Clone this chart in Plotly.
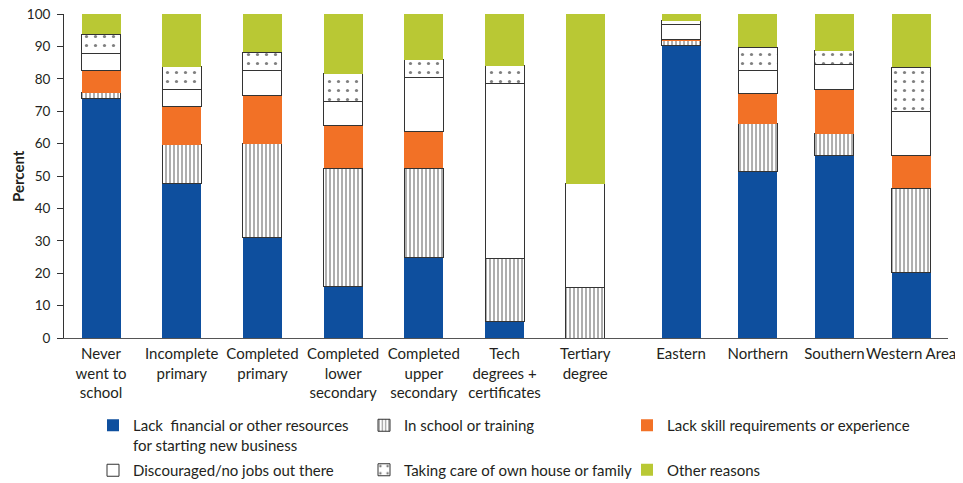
import plotly.graph_objects as go

# ---------------- data ----------------
edu_categories = ["Never<br>went to<br>school", "Incomplete<br>primary", "Completed<br>primary",
                  "Completed<br>lower<br>secondary", "Completed<br>upper<br>secondary",
                  "Tech<br>degrees +<br>certificates", "Tertiary<br>degree"]
region_categories = ["Eastern", "Northern", "Southern", "Western Area"]

series_names = ["Lack  financial or other resources<br>for starting new business",
                "In school or training",
                "Lack skill requirements or experience",
                "Discouraged/no jobs out there",
                "Taking care of own house or family",
                "Other reasons"]

lack_financial_edu = [74.0, 47.6, 31.1, 16.0, 24.9, 5.1, 0.0]
in_school_edu      = [1.7, 12.0, 28.8, 36.4, 27.5, 19.4, 15.5]
lack_skill_edu     = [6.8, 11.9, 14.8, 13.1, 11.4, 0.0, 0.0]
discouraged_edu    = [5.4, 5.2, 7.9, 7.5, 16.7, 54.1, 32.1]
care_edu           = [5.9, 7.0, 5.6, 8.5, 5.4, 5.4, 0.0]
other_edu          = [6.2, 16.3, 11.8, 18.5, 14.1, 16.0, 52.4]

lack_financial_reg = [90.2, 51.3, 56.2, 20.1]
in_school_reg      = [1.6, 14.8, 6.8, 26.1]
lack_skill_reg     = [0.4, 9.4, 13.8, 10.0]
discouraged_reg    = [4.7, 7.1, 7.5, 13.7]
care_reg           = [1.0, 7.2, 4.3, 13.7]
other_reg          = [2.1, 10.2, 11.4, 16.4]

y_ticks = [0, 10, 20, 30, 40, 50, 60, 70, 80, 90, 100]
y_title = "Percent"

# ---------------- styles ----------------
BLUE = "#0e4f9e"
ORANGE = "#f27126"
GREEN = "#b9c834"
OUTLINE = "#333333"
FONT = "Lato"
TXT = "#231f20"

styles = [
    dict(marker=dict(color=BLUE, line=dict(width=0))),
    dict(marker=dict(color="white", line=dict(width=1, color=OUTLINE),
                     pattern=dict(shape="|", size=4, solidity=0.4, fgcolor="#333333",
                                  bgcolor="white", fillmode="overlay"))),
    dict(marker=dict(color=ORANGE, line=dict(width=0))),
    dict(marker=dict(color="white", line=dict(width=1, color=OUTLINE))),
    dict(marker=dict(color="white", line=dict(width=1, color=OUTLINE),
                     pattern=dict(shape=".", size=9, solidity=0.1, fgcolor="#000000",
                                  bgcolor="white", fillmode="overlay"))),
    dict(marker=dict(color=GREEN, line=dict(width=0))),
]
# legend column for each series (3 columns x 2 rows, like the reference)
legend_of = ["legend", "legend2", "legend3", "legend", "legend2", "legend3"]

edu_series = [lack_financial_edu, in_school_edu, lack_skill_edu, discouraged_edu, care_edu, other_edu]
reg_series = [lack_financial_reg, in_school_reg, lack_skill_reg, discouraged_reg, care_reg, other_reg]

fig = go.Figure()
for i, (name, vals) in enumerate(zip(series_names, edu_series)):
    fig.add_trace(go.Bar(x=edu_categories, y=vals, name=name, xaxis="x", yaxis="y",
                         width=0.483, legendgroup=str(i), showlegend=True,
                         legend=legend_of[i], hoverinfo="y+name", **styles[i]))
for i, (name, vals) in enumerate(zip(series_names, reg_series)):
    fig.add_trace(go.Bar(x=region_categories, y=vals, name=name, xaxis="x2", yaxis="y",
                         width=0.508, legendgroup=str(i), showlegend=False,
                         legend=legend_of[i], hoverinfo="y+name", **styles[i]))

# the page body has an 8px default margin; figure is sized so the plot sits
# where the reference has it inside the 963x483 window
W, H, OFF = 955, 475, 8
PLOT_L, PLOT_R = 64, 948

split = 0.6403
axis_common = dict(type="category", showline=True, linecolor="#555555", linewidth=1,
                   ticks="outside", ticklen=2, tickcolor="rgba(0,0,0,0)", tickangle=0,
                   tickfont=dict(family=FONT, size=15, color=TXT), showgrid=False,
                   zeroline=False, fixedrange=True, automargin=False,
                   ticklabeloverflow="allow")

legend_common = dict(orientation="v", xref="container", yref="container",
                     xanchor="left", yanchor="top", valign="top",
                     traceorder="grouped", itemwidth=30,
                     font=dict(family=FONT, size=15, color=TXT), bgcolor="rgba(0,0,0,0)")
leg_top = 1 - (409 - OFF) / H

fig.update_layout(
    width=W, height=H,
    margin=dict(l=PLOT_L - OFF, r=W + OFF - PLOT_R, t=14 - OFF, b=145, autoexpand=False),
    paper_bgcolor="white", plot_bgcolor="white",
    barmode="stack",
    font=dict(family=FONT, size=14, color=TXT),
    xaxis=dict(domain=[0, split], range=[-0.459, 6.555], anchor="y", **axis_common),
    xaxis2=dict(domain=[split, 1], range=[-0.665, 3.48], anchor="y", **axis_common),
    yaxis=dict(range=[0, 100], tickvals=y_ticks, ticks="outside", ticklen=6,
               tickcolor="#333333", showline=True, linecolor="#333333", linewidth=1,
               showgrid=False, zeroline=False, automargin=False,
               ticklabeloverflow="allow", ticklabelstandoff=4,
               tickfont=dict(family=FONT, size=13.5, color=TXT),
               anchor="x"),
    legend=dict(x=(93 - OFF) / W, y=leg_top, tracegroupgap=3, **legend_common),
    legend2=dict(x=(364 - OFF) / W, y=leg_top, tracegroupgap=22, **legend_common),
    legend3=dict(x=(627 - OFF) / W, y=leg_top, tracegroupgap=22, **legend_common),
    annotations=[dict(text="<b>" + y_title + "</b>", textangle=-90, showarrow=False,
                      xref="paper", yref="paper",
                      x=(18 - PLOT_L) / (PLOT_R - PLOT_L), y=0.5,
                      xanchor="center", yanchor="middle",
                      font=dict(family=FONT, size=15, color=TXT))],
)

fig.write_html("out.html")
